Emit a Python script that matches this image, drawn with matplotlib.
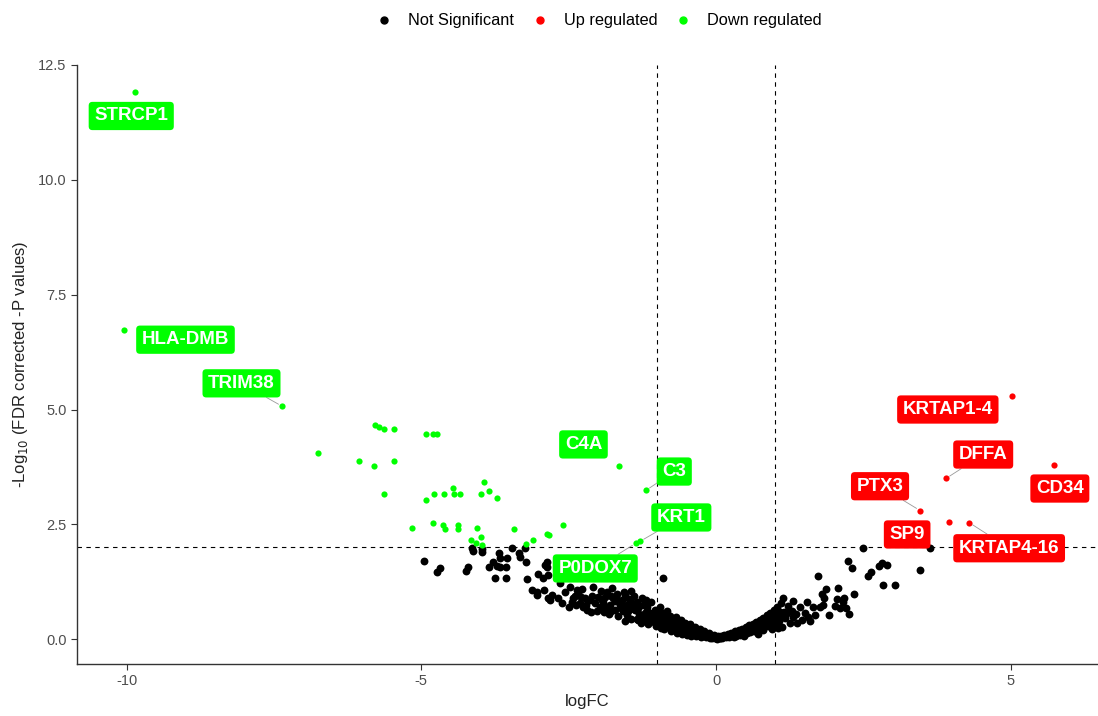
import matplotlib
matplotlib.use("Agg")
import matplotlib.pyplot as plt
from matplotlib.lines import Line2D

plt.rcParams['font.family'] = ['Liberation Sans', 'DejaVu Sans']

# not significant genes (logFC, -log10 FDR)
ns_x = [-4.95, -4.73, -4.68, -4.25, -4.20, -4.14, -4.12, -3.97, -3.97, -3.69, -3.66, -3.78, -3.86, -3.71,
        -3.66, -3.56, -3.54, -3.75, -3.56, -3.46, -3.34, -3.32, -3.25, -3.22, -3.20, -3.02, -2.90, -2.87,
        -2.93, -2.85, -3.12, -3.03, -3.03, -2.92, -2.85, -2.86, -2.64, -2.81,
        -2.78, -2.68, -2.61, -2.56, -2.47, -2.42, -2.36, -2.34, -2.31, -2.22, -2.19, -2.14, -2.08, -2.00,
        -1.97, -1.92, -1.85, -1.76, -1.75, -1.71, -1.63, -1.54, -1.51, -1.42, -1.37, -1.32, -1.24, -1.20,
        -1.12, -1.03, -0.98, -0.86, -0.81, -0.73, -0.90,
        -2.50, -2.40, -2.27, -2.25, -2.12, -2.05, -1.95, -1.90, -1.88, -1.80, -1.82, -1.68, -1.66, -1.60,
        -1.58, -1.55, -1.48, -1.46, -1.44, -1.40, -1.35, -1.30, -1.28, -1.26, -1.22, -1.18, -1.15, -1.10,
        -1.08, -1.06, -1.02, -1.00, -0.96, -0.94, -0.92, -0.90, -0.88, -0.84, -0.82, -0.78, -0.76, -0.74,
        -0.70, -0.68, -0.66, -0.64, -0.62, -0.60, -0.58, -0.56, -0.54, -0.52, -0.50, -0.48, -0.46, -0.44,
        -0.42, -0.40, -0.38, -0.36, -0.34, -0.32, -0.30, -0.28, -0.26, -0.24, -0.22, -0.20, -0.18, -0.16,
        -0.14, -0.12, -0.10, -0.08, -0.06, -0.04, -0.02, 0.00, 0.02, 0.04, 0.06, 0.08, 0.10, 0.12,
        0.14, 0.16, 0.18, 0.20, 0.22, 0.24, 0.26, 0.28, 0.30, 0.32, 0.34, 0.36, 0.38, 0.40,
        0.42, 0.44, 0.46, 0.48, 0.50, 0.52, 0.54, 0.56, 0.58, 0.60, 0.62, 0.64, 0.66, 0.68,
        0.70, 0.72, 0.74, 0.76, 0.78, 0.80, 0.82, 0.84, 0.86, 0.88, 0.90, 0.92, 0.94, 0.96,
        0.98, 1.00, 1.02, 1.04, 1.06, 1.08, 1.10, 1.12, 1.14, 1.17, 1.20, 1.25, 1.31, 1.31,
        1.42, 1.46, 1.54, 1.56, 1.64, 1.68, 1.73, 1.76, 1.81, 1.80, 1.83, 1.86, 1.92, 2.02,
        2.05, 2.07, 2.10, 2.15, 2.17, 2.20, 2.25, 2.24, 2.30, 2.34, 2.49, 2.58, 2.63, 2.76,
        2.81, 2.90, 2.83, 3.03, 3.46, 3.63,
        1.05, 1.15, 1.22, 1.28, 1.35, 1.38, 1.50, 1.60,
        -0.99, -0.97, -0.93, -0.89, -0.85, -0.80, -0.77, -0.72, -0.69, -0.65, -0.61, -0.57, -0.53, -0.49,
        -0.45, -0.41, -0.37, -0.33, -0.29, -0.25, -0.21, -0.17, -1.34, -1.14, -1.19, -1.39, -1.52, -1.62,
        -1.72, -1.78, -1.57, -1.45,
        -2.45, -2.38, -2.30, -2.20, -2.10, -2.02, -1.93, -1.86, -1.78, -1.70, -1.65, -1.56, -1.50, -1.43,
        -1.33, -1.27, -1.17, -1.13, -1.05, -0.95, -0.87, -0.79, -0.71, -0.63, -0.55, -0.47, -0.39, -0.31,
        -0.23, -0.15, -0.07, 0.07, 0.15, 0.23, 0.31, 0.39, 0.47, 0.55, 0.63, 0.71, 0.79, 0.87,
        0.95, 1.03, 1.11]
ns_y = [1.70, 1.46, 1.54, 1.48, 1.57, 1.98, 1.93, 1.89, 1.96, 1.87, 1.76, 1.67, 1.57, 1.59,
        1.57, 1.57, 1.76, 1.33, 1.33, 1.98, 1.87, 1.80, 1.98, 1.67, 1.30, 1.43, 1.61, 1.67,
        1.33, 1.39, 1.07, 1.02, 0.96, 1.07, 0.89, 1.57, 1.22, 0.85,
        0.96, 0.89, 0.78, 1.02, 1.13, 0.89, 1.07, 1.00, 0.78, 0.89, 0.63, 0.85, 1.13, 0.91,
        0.70, 0.80, 1.02, 1.11, 0.89, 0.63, 0.74, 0.96, 0.52, 0.78, 0.63, 0.41, 0.74, 0.57,
        0.46, 0.63, 0.37, 0.48, 0.30, 0.26, 1.33,
        0.70, 0.95, 1.10, 0.70, 0.60, 0.78, 1.05, 0.60, 0.92, 0.75, 0.55, 0.98, 0.50, 0.85,
        0.62, 0.40, 0.88, 0.66, 0.45, 0.95, 0.82, 0.55, 0.35, 0.90, 0.45, 0.70, 0.32, 0.80,
        0.58, 0.38, 0.28, 0.50, 0.70, 0.25, 0.58, 0.42, 0.22, 0.62, 0.38, 0.50, 0.18, 0.40,
        0.30, 0.48, 0.14, 0.36, 0.24, 0.42, 0.12, 0.30, 0.20, 0.36, 0.10, 0.26, 0.16, 0.32,
        0.08, 0.22, 0.12, 0.26, 0.06, 0.18, 0.10, 0.22, 0.05, 0.14, 0.08, 0.18, 0.04, 0.11,
        0.06, 0.14, 0.03, 0.08, 0.04, 0.10, 0.02, 0.05, 0.01, 0.06, 0.03, 0.08, 0.02, 0.06,
        0.10, 0.04, 0.08, 0.12, 0.05, 0.10, 0.14, 0.06, 0.12, 0.17, 0.08, 0.14, 0.20, 0.10,
        0.16, 0.22, 0.12, 0.19, 0.26, 0.14, 0.22, 0.30, 0.16, 0.24, 0.34, 0.18, 0.28, 0.38,
        0.20, 0.30, 0.42, 0.22, 0.34, 0.46, 0.26, 0.38, 0.52, 0.28, 0.42, 0.58, 0.32, 0.48,
        0.64, 0.36, 0.54, 0.70, 0.40, 0.60, 0.78, 0.26, 0.89, 0.46, 0.57, 0.35, 0.48, 0.83,
        0.70, 0.41, 0.80, 0.48, 0.70, 0.52, 1.37, 0.70, 0.74, 0.98, 0.89, 1.09, 0.52, 0.72,
        0.87, 1.11, 0.67, 0.80, 0.89, 0.67, 0.54, 1.70, 1.54, 0.98, 1.98, 1.37, 1.46, 1.59,
        1.65, 1.61, 1.17, 1.17, 1.50, 1.98,
        0.25, 0.60, 0.72, 0.62, 0.55, 0.36, 0.58, 0.40,
        0.45, 0.55, 0.35, 0.50, 0.28, 0.42, 0.26, 0.36, 0.22, 0.28, 0.18, 0.22, 0.28, 0.18,
        0.24, 0.16, 0.18, 0.14, 0.14, 0.10, 0.12, 0.08, 0.45, 0.55, 0.85, 0.68, 0.75, 0.68,
        0.84, 0.95, 1.02, 1.05,
        0.82, 0.75, 0.92, 0.75, 0.95, 0.62, 0.85, 0.70, 0.62, 0.92, 0.82, 0.72, 0.62, 0.72,
        0.68, 0.50, 0.62, 0.42, 0.52, 0.45, 0.40, 0.34, 0.42, 0.30, 0.25, 0.14, 0.16, 0.20,
        0.12, 0.06, 0.02, 0.02, 0.06, 0.08, 0.05, 0.15, 0.06, 0.18, 0.24, 0.12, 0.20, 0.35,
        0.22, 0.45, 0.50]

# down regulated
dn_x = [-9.85, -10.05, -7.36, -6.76, -5.78, -5.71, -5.63, -5.46, -4.92, -4.80, -4.73, -6.05, -5.81, -5.47,
        -5.64, -3.93, -3.86, -3.98, -3.71, -4.47, -4.44, -4.34, -4.61, -4.78, -4.92, -5.15, -4.80, -4.63,
        -4.59, -4.37, -4.37, -4.05, -3.98, -4.15, -4.07, -3.97, -3.42, -3.10, -3.22, -2.86, -2.83, -2.59,
        -1.64, -1.19, -1.36, -1.29]
dn_y = [11.91, 6.74, 5.07, 4.06, 4.67, 4.63, 4.58, 4.58, 4.47, 4.47, 4.47, 3.87, 3.78, 3.87,
        3.17, 3.43, 3.22, 3.17, 3.07, 3.30, 3.17, 3.17, 3.17, 3.17, 3.02, 2.41, 2.52, 2.48,
        2.39, 2.48, 2.39, 2.43, 2.22, 2.15, 2.09, 2.04, 2.39, 2.15, 2.07, 2.28, 2.26, 2.48,
        3.78, 3.24, 2.09, 2.13]

# up regulated
up_x = [5.02, 3.90, 5.73, 3.46, 3.95, 4.29]
up_y = [5.30, 3.50, 3.80, 2.80, 2.56, 2.54]

# labels: gene, point, label centre, colour, draw segment
lab_gene = ['STRCP1', 'HLA-DMB', 'TRIM38', 'C4A', 'C3', 'KRT1', 'P0DOX7',
            'KRTAP1-4', 'DFFA', 'PTX3', 'CD34', 'SP9', 'KRTAP4-16']
lab_px = [-9.85, -10.05, -7.36, -1.64, -1.19, -1.29, -1.36, 5.02, 3.90, 3.46, 5.73, 3.95, 4.29]
lab_py = [11.91, 6.74, 5.07, 3.78, 3.24, 2.13, 2.09, 5.30, 3.50, 2.80, 3.80, 2.56, 2.54]
lab_tx = [-9.92, -9.00, -8.05, -2.25, -0.71, -0.59, -2.05, 3.93, 4.53, 2.78, 5.83, 3.24, 4.97]
lab_ty = [11.39, 6.52, 5.57, 4.24, 3.65, 2.65, 1.54, 5.00, 4.02, 3.33, 3.28, 2.28, 1.98]
lab_up = [False] * 7 + [True] * 6
lab_seg = [False, False, True, False, True, True, True, False, True, True, False, False, True]

GREEN = '#00FF00'
RED = '#FF0000'

fig = plt.figure(figsize=(10.98, 7.16), dpi=100)
ax = fig.add_axes([77 / 1098, 52 / 716, 1020 / 1098, 599 / 716])

ax.scatter(ns_x, ns_y, s=32, c='black', linewidths=0, zorder=2)
ax.scatter(up_x, up_y, s=20, c=RED, linewidths=0, zorder=3)
ax.scatter(dn_x, dn_y, s=20, c=GREEN, linewidths=0, zorder=3)

# thresholds
ax.axvline(-1, color='black', ls=(0, (4, 4)), lw=0.8, zorder=1)
ax.axvline(1, color='black', ls=(0, (4, 4)), lw=0.8, zorder=1)
ax.axhline(2, color='black', ls=(0, (4, 4)), lw=0.8, zorder=1)

for g, px, py, tx, ty, up, seg in zip(lab_gene, lab_px, lab_py, lab_tx, lab_ty, lab_up, lab_seg):
    col = RED if up else GREEN
    arrow = dict(arrowstyle='-', color='#999999', lw=0.6, shrinkA=0, shrinkB=3) if seg else None
    ax.annotate(g, xy=(px, py), xytext=(tx, ty), textcoords='data', ha='center', va='center',
                fontsize=13.5, fontweight='bold', color='white',
                bbox=dict(boxstyle='round,pad=0.3,rounding_size=0.2', fc=col, ec='none'),
                arrowprops=arrow, zorder=5)

ax.set_xlim(-10.84, 6.46)
ax.set_ylim(-0.54, 12.5)
ax.set_xticks([-10, -5, 0, 5])
ax.set_xticklabels(['-10', '-5', '0', '5'])
ax.set_yticks([0, 2.5, 5, 7.5, 10, 12.5])
ax.set_yticklabels(['0.0', '2.5', '5.0', '7.5', '10.0', '12.5'])
ax.tick_params(length=4, width=0.8, color='#333333', labelcolor='#4D4D4D', labelsize=10.5)
for s in ['top', 'right']:
    ax.spines[s].set_visible(False)
for s in ['left', 'bottom']:
    ax.spines[s].set_color('#333333')
    ax.spines[s].set_linewidth(1.0)

ax.set_xlabel('logFC', fontsize=12, color='#222222', labelpad=4)
ax.set_ylabel('-Log$_{10}$ (FDR corrected -P values)', fontsize=12, color='#222222', labelpad=6)

handles = [Line2D([], [], marker='o', ls='', color='black', markersize=5),
           Line2D([], [], marker='o', ls='', color=RED, markersize=5),
           Line2D([], [], marker='o', ls='', color=GREEN, markersize=5)]
fig.legend(handles, ['Not Significant', 'Up regulated', 'Down regulated'], loc='center',
           bbox_to_anchor=(598 / 1098, 1 - 21 / 716), ncol=3, frameon=False, fontsize=11.8,
           handletextpad=0.85, columnspacing=1.0, handlelength=1.2)

fig.savefig('out.png', dpi=100)
